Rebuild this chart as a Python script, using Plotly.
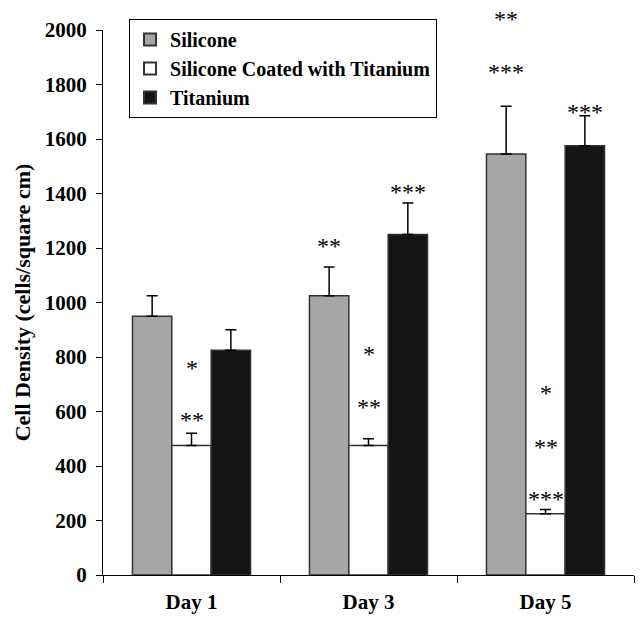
import plotly.graph_objects as go

days = ["Day 1", "Day 3", "Day 5"]
series_names = ["Silicone", "Silicone Coated with Titanium", "Titanium"]
silicone = [950, 1025, 1545]
silicone_err = [75, 105, 175]
coated = [475, 475, 225]
coated_err = [45, 25, 15]
titanium = [825, 1250, 1575]
titanium_err = [75, 115, 110]

# significance markers: (day index, series index, label, value level)
sig_day = [0, 0, 1, 1, 1, 1, 2, 2, 2, 2, 2, 2]
sig_series = [1, 1, 0, 1, 1, 2, 0, 0, 1, 1, 1, 2]
sig_text = ["*", "**", "**", "*", "**", "***", "**", "***", "*", "**", "***", "***"]
sig_level = [776, 582, 1222, 827, 633, 1420, 2056, 1862, 684, 483, 293, 1712]

y_ticks = [0, 200, 400, 600, 800, 1000, 1200, 1400, 1600, 1800, 2000]
y_max = 2000

colors = ["#a6a6a8", "#ffffff", "#141414"]
values = [silicone, coated, titanium]
errors = [silicone_err, coated_err, titanium_err]

fig = go.Figure()
for name, vals, errs, col in zip(series_names, values, errors, colors):
    fig.add_trace(go.Bar(
        x=days, y=vals, name=name,
        marker=dict(color=col, line=dict(color="#333333", width=1.5)),
        error_y=dict(type="data", symmetric=False, array=errs,
                     arrayminus=[0] * len(errs),
                     color="#000000", thickness=1.5, width=5.5),
    ))

W, H = 640, 620
ml, mr, mt, mb = 103, 6, 30, 43
plot_w = W - ml - mr
cat_px = plot_w / len(days)
bargap = 0.333
bar_px = cat_px * (1 - bargap) / 3

SERIF = "Liberation Serif"
annotations = []
for d, s, t, lv in zip(sig_day, sig_series, sig_text, sig_level):
    annotations.append(dict(
        x=days[d], y=lv / y_max, xref="x", yref="paper", text=t, showarrow=False,
        xshift=(s - 1) * bar_px, yanchor="middle", yshift=-4,
        font=dict(family=SERIF, size=24, color="#000000"),
    ))

fig.update_layout(
    width=W, height=H,
    margin=dict(l=ml, r=mr, t=mt, b=mb),
    paper_bgcolor="white", plot_bgcolor="white",
    barmode="group", bargap=bargap, bargroupgap=0,
    font=dict(family=SERIF, color="#000000"),
    showlegend=True,
    legend=dict(x=0.049, y=1.02, xanchor="left", yanchor="top",
                bordercolor="#000000", borderwidth=1, bgcolor="white",
                font=dict(family=SERIF, size=20, color="#000000", weight="bold"),
                itemsizing="constant", tracegroupgap=0),
    annotations=annotations,
    xaxis=dict(showline=True, linecolor="#000000", linewidth=1.2,
               ticks="outside", tickson="boundaries", ticklen=7,
               tickcolor="#000000", tickwidth=1.2,
               tickfont=dict(family=SERIF, size=21, color="#000000", weight="bold"),
               ticklabelstandoff=8, showgrid=False),
    yaxis=dict(range=[0, y_max], tickvals=y_ticks, showline=True,
               linecolor="#000000", linewidth=1.2, ticks="outside", ticklen=6,
               tickcolor="#000000", tickwidth=1.2, showgrid=False, zeroline=False,
               ticklabelstandoff=5,
               tickfont=dict(family=SERIF, size=21, color="#000000", weight="bold"),
               title=dict(text="Cell Density (cells/square cm)", standoff=8,
                          font=dict(family=SERIF, size=22, color="#000000", weight="bold"))),
)

fig.write_html("out.html")
